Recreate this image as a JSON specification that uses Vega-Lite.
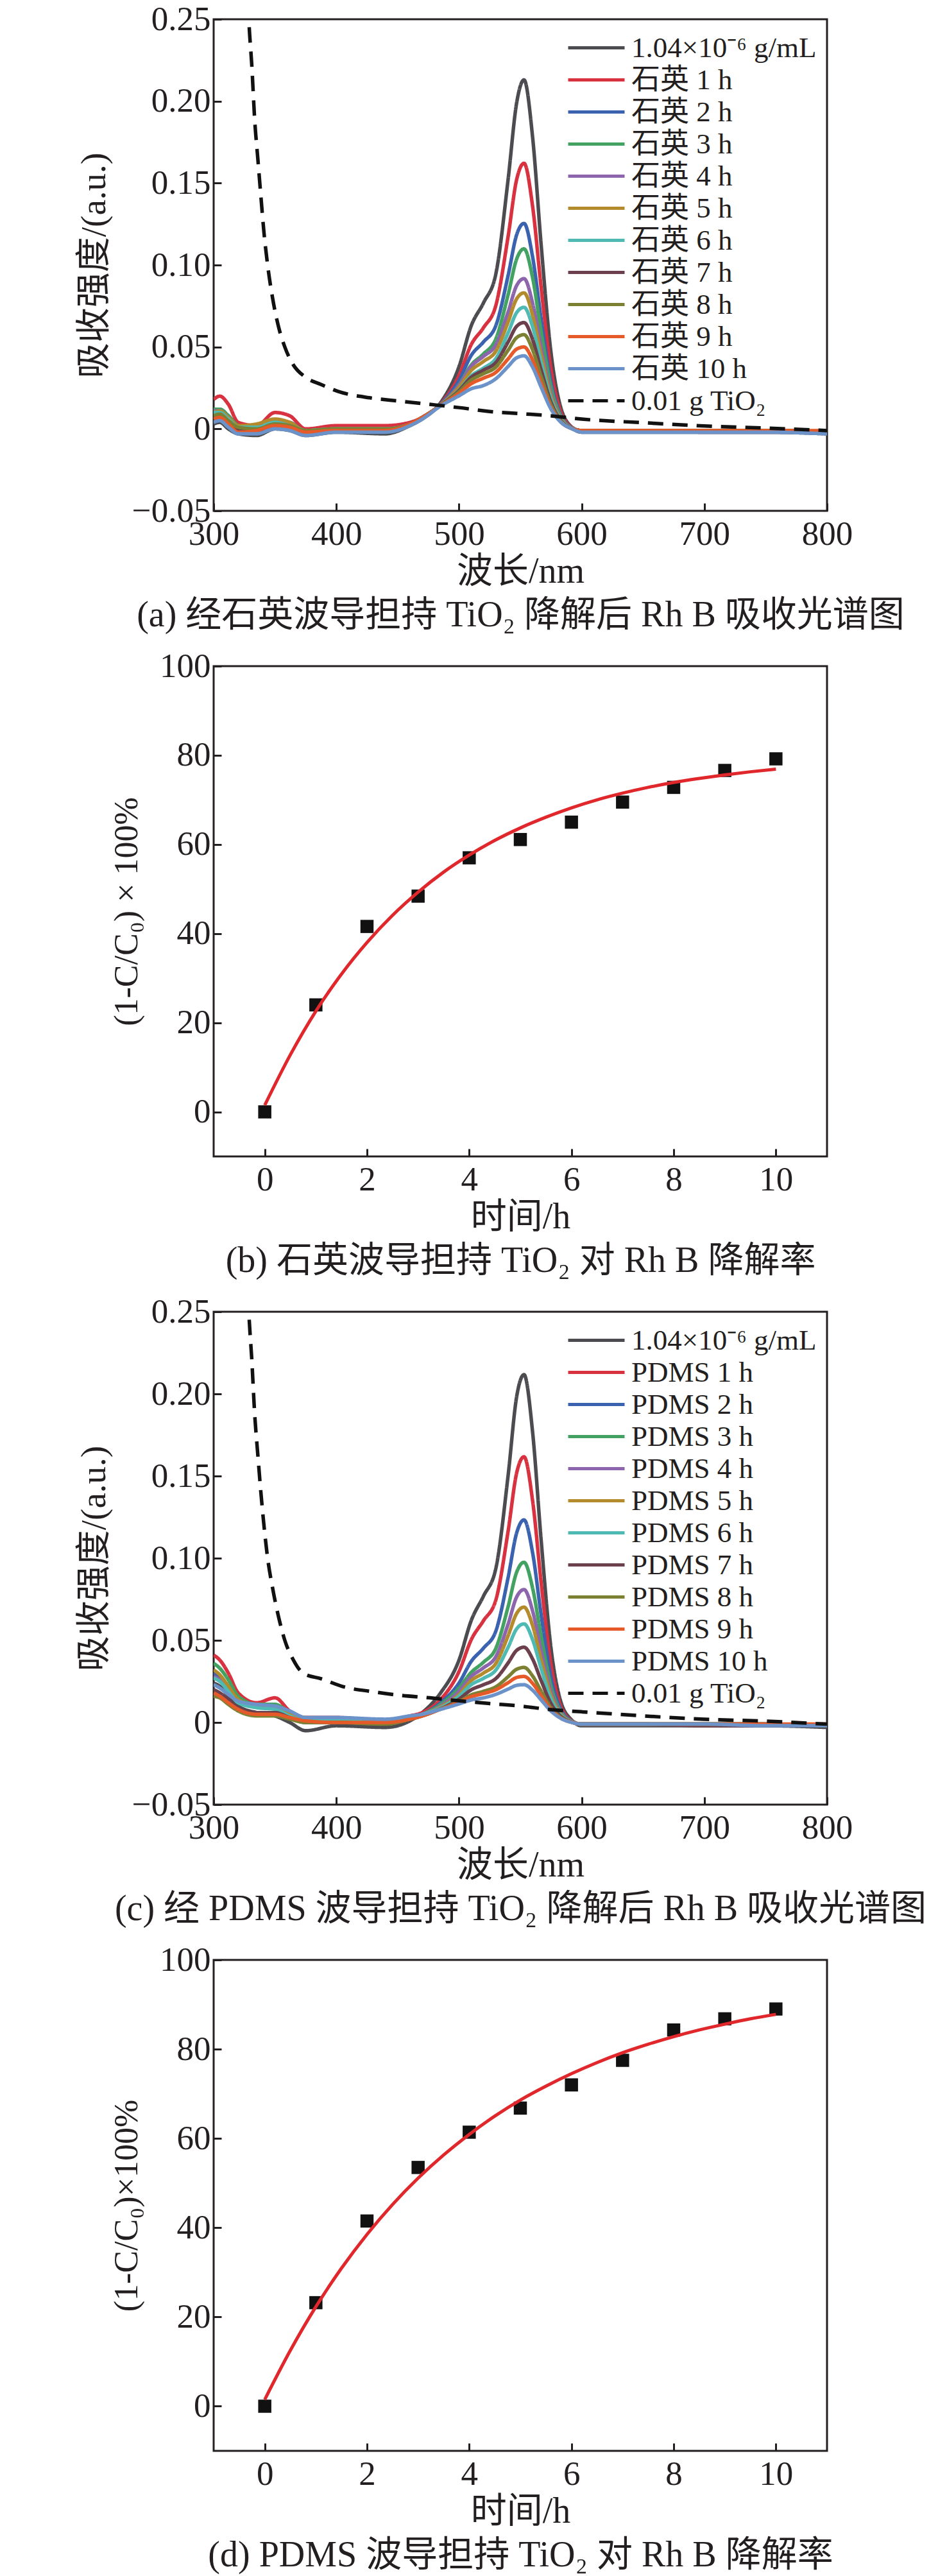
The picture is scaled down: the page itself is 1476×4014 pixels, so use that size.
{
  "$schema": "https://vega.github.io/schema/vega-lite/v6.json",
  "background": "white",
  "padding": {"left": 117, "top": 2, "right": 5, "bottom": 5},
  "config": {
    "font": "Liberation Serif, Noto Sans CJK SC",
    "view": {"stroke": "#231f20", "strokeWidth": 3},
    "axis": {
      "domain": false, "grid": false, "ticks": true, "tickSize": -12, "tickWidth": 3, "tickColor": "#231f20",
      "labelFontSize": 53, "labelColor": "#231f20", "labelFlush": false, "labelOverlap": false, "labelBound": false,
      "titleFontSize": 56, "titleFontWeight": "normal", "titleColor": "#231f20", "titleLimit": 2000
    },
    "axisX": {"labelPadding": 22, "titlePadding": 4, "titleLineHeight": 68, "format": "d"},
    "axisY": {"labelPadding": 17},
    "legend": {
      "orient": "none", "legendX": 574, "legendY": 22, "title": null, "padding": 0,
      "symbolType": "M-2.2,0L2.2,0", "symbolSize": 1600, "symbolStrokeWidth": 5,
      "labelFontSize": 45, "labelOffset": 32, "rowPadding": 4, "labelColor": "#231f20", "labelLimit": 800
    }
  },
  "datasets": {
    "a": [
      {"s":"1.04×10⁻⁶ g/mL","w":300,"v":0.003},{"s":"1.04×10⁻⁶ g/mL","w":305,"v":0.004},{"s":"1.04×10⁻⁶ g/mL","w":312,"v":0},{"s":"1.04×10⁻⁶ g/mL","w":320,"v":-0.003},{"s":"1.04×10⁻⁶ g/mL","w":335,"v":-0.004},{"s":"1.04×10⁻⁶ g/mL","w":350,"v":0},{"s":"1.04×10⁻⁶ g/mL","w":362,"v":-0.001},{"s":"1.04×10⁻⁶ g/mL","w":375,"v":-0.004},{"s":"1.04×10⁻⁶ g/mL","w":400,"v":-0.002},{"s":"1.04×10⁻⁶ g/mL","w":440,"v":-0.003},{"s":"1.04×10⁻⁶ g/mL","w":460,"v":0.002},{"s":"1.04×10⁻⁶ g/mL","w":470,"v":0.006},{"s":"1.04×10⁻⁶ g/mL","w":485,"v":0.016},{"s":"1.04×10⁻⁶ g/mL","w":500,"v":0.038},{"s":"1.04×10⁻⁶ g/mL","w":510,"v":0.063},{"s":"1.04×10⁻⁶ g/mL","w":520,"v":0.077},{"s":"1.04×10⁻⁶ g/mL","w":530,"v":0.0945},{"s":"1.04×10⁻⁶ g/mL","w":540,"v":0.152},{"s":"1.04×10⁻⁶ g/mL","w":547,"v":0.199},{"s":"1.04×10⁻⁶ g/mL","w":553,"v":0.213},{"s":"1.04×10⁻⁶ g/mL","w":560,"v":0.178},{"s":"1.04×10⁻⁶ g/mL","w":567,"v":0.112},{"s":"1.04×10⁻⁶ g/mL","w":575,"v":0.0465},{"s":"1.04×10⁻⁶ g/mL","w":583,"v":0.013},{"s":"1.04×10⁻⁶ g/mL","w":592,"v":0.001},{"s":"1.04×10⁻⁶ g/mL","w":600,"v":-0.002},{"s":"1.04×10⁻⁶ g/mL","w":650,"v":-0.002},{"s":"1.04×10⁻⁶ g/mL","w":700,"v":-0.002},{"s":"1.04×10⁻⁶ g/mL","w":750,"v":-0.002},{"s":"1.04×10⁻⁶ g/mL","w":800,"v":-0.003},
      {"s":"石英 1 h","w":300,"v":0.018},{"s":"石英 1 h","w":305,"v":0.02},{"s":"石英 1 h","w":312,"v":0.015},{"s":"石英 1 h","w":320,"v":0.004},{"s":"石英 1 h","w":335,"v":0.002},{"s":"石英 1 h","w":350,"v":0.01},{"s":"石英 1 h","w":362,"v":0.008},{"s":"石英 1 h","w":375,"v":0},{"s":"石英 1 h","w":400,"v":0.002},{"s":"石英 1 h","w":440,"v":0.002},{"s":"石英 1 h","w":460,"v":0.004},{"s":"石英 1 h","w":470,"v":0.007},{"s":"石英 1 h","w":485,"v":0.0153},{"s":"石英 1 h","w":500,"v":0.0326},{"s":"石英 1 h","w":510,"v":0.0515},{"s":"石英 1 h","w":520,"v":0.0618},{"s":"石英 1 h","w":530,"v":0.0753},{"s":"石英 1 h","w":540,"v":0.1173},{"s":"石英 1 h","w":547,"v":0.1522},{"s":"石英 1 h","w":553,"v":0.1621},{"s":"石英 1 h","w":560,"v":0.1358},{"s":"石英 1 h","w":567,"v":0.086},{"s":"石英 1 h","w":575,"v":0.0362},{"s":"石英 1 h","w":583,"v":0.0105},{"s":"石英 1 h","w":592,"v":0.001},{"s":"石英 1 h","w":600,"v":-0.001},{"s":"石英 1 h","w":650,"v":-0.001},{"s":"石英 1 h","w":700,"v":-0.001},{"s":"石英 1 h","w":750,"v":-0.001},{"s":"石英 1 h","w":800,"v":-0.002},
      {"s":"石英 2 h","w":300,"v":0.01},{"s":"石英 2 h","w":305,"v":0.012},{"s":"石英 2 h","w":312,"v":0.008},{"s":"石英 2 h","w":320,"v":0.002},{"s":"石英 2 h","w":335,"v":0},{"s":"石英 2 h","w":350,"v":0.005},{"s":"石英 2 h","w":362,"v":0.004},{"s":"石英 2 h","w":375,"v":-0.001},{"s":"石英 2 h","w":400,"v":0},{"s":"石英 2 h","w":440,"v":0},{"s":"石英 2 h","w":460,"v":0.003},{"s":"石英 2 h","w":470,"v":0.007},{"s":"石英 2 h","w":485,"v":0.015},{"s":"石英 2 h","w":500,"v":0.0296},{"s":"石英 2 h","w":510,"v":0.0449},{"s":"石英 2 h","w":520,"v":0.0531},{"s":"石英 2 h","w":530,"v":0.063},{"s":"石英 2 h","w":540,"v":0.0935},{"s":"石英 2 h","w":547,"v":0.1185},{"s":"石英 2 h","w":553,"v":0.1254},{"s":"石英 2 h","w":560,"v":0.105},{"s":"石英 2 h","w":567,"v":0.0669},{"s":"石英 2 h","w":575,"v":0.0285},{"s":"石英 2 h","w":583,"v":0.0084},{"s":"石英 2 h","w":592,"v":0.0007},{"s":"石英 2 h","w":600,"v":-0.001},{"s":"石英 2 h","w":650,"v":-0.001},{"s":"石英 2 h","w":700,"v":-0.001},{"s":"石英 2 h","w":750,"v":-0.001},{"s":"石英 2 h","w":800,"v":-0.002},
      {"s":"石英 3 h","w":300,"v":0.012},{"s":"石英 3 h","w":305,"v":0.012},{"s":"石英 3 h","w":312,"v":0.008},{"s":"石英 3 h","w":320,"v":0.002},{"s":"石英 3 h","w":335,"v":0},{"s":"石英 3 h","w":350,"v":0.005},{"s":"石英 3 h","w":362,"v":0.003},{"s":"石英 3 h","w":375,"v":-0.001},{"s":"石英 3 h","w":400,"v":0},{"s":"石英 3 h","w":440,"v":0},{"s":"石英 3 h","w":460,"v":0.003},{"s":"石英 3 h","w":470,"v":0.007},{"s":"石英 3 h","w":485,"v":0.0147},{"s":"石英 3 h","w":500,"v":0.0269},{"s":"石英 3 h","w":510,"v":0.039},{"s":"石英 3 h","w":520,"v":0.0458},{"s":"石英 3 h","w":530,"v":0.0549},{"s":"石英 3 h","w":540,"v":0.0818},{"s":"石英 3 h","w":547,"v":0.1037},{"s":"石英 3 h","w":553,"v":0.1099},{"s":"石英 3 h","w":560,"v":0.0923},{"s":"石英 3 h","w":567,"v":0.0591},{"s":"石英 3 h","w":575,"v":0.0255},{"s":"石英 3 h","w":583,"v":0.0076},{"s":"石英 3 h","w":592,"v":0.0006},{"s":"石英 3 h","w":600,"v":-0.001},{"s":"石英 3 h","w":650,"v":-0.001},{"s":"石英 3 h","w":700,"v":-0.001},{"s":"石英 3 h","w":750,"v":-0.001},{"s":"石英 3 h","w":800,"v":-0.002},
      {"s":"石英 4 h","w":300,"v":0.011},{"s":"石英 4 h","w":305,"v":0.011},{"s":"石英 4 h","w":312,"v":0.007},{"s":"石英 4 h","w":320,"v":0.001},{"s":"石英 4 h","w":335,"v":0},{"s":"石英 4 h","w":350,"v":0.004},{"s":"石英 4 h","w":362,"v":0.003},{"s":"石英 4 h","w":375,"v":-0.001},{"s":"石英 4 h","w":400,"v":0},{"s":"石英 4 h","w":440,"v":0},{"s":"石英 4 h","w":460,"v":0.003},{"s":"石英 4 h","w":470,"v":0.007},{"s":"石英 4 h","w":485,"v":0.0147},{"s":"石英 4 h","w":500,"v":0.0265},{"s":"石英 4 h","w":510,"v":0.0382},{"s":"石英 4 h","w":520,"v":0.0443},{"s":"石英 4 h","w":530,"v":0.0512},{"s":"石英 4 h","w":540,"v":0.0713},{"s":"石英 4 h","w":547,"v":0.0875},{"s":"石英 4 h","w":553,"v":0.0917},{"s":"石英 4 h","w":560,"v":0.0768},{"s":"石英 4 h","w":567,"v":0.0495},{"s":"石英 4 h","w":575,"v":0.0217},{"s":"石英 4 h","w":583,"v":0.0066},{"s":"石英 4 h","w":592,"v":0.0005},{"s":"石英 4 h","w":600,"v":-0.001},{"s":"石英 4 h","w":650,"v":-0.001},{"s":"石英 4 h","w":700,"v":-0.001},{"s":"石英 4 h","w":750,"v":-0.001},{"s":"石英 4 h","w":800,"v":-0.002},
      {"s":"石英 5 h","w":300,"v":0.01},{"s":"石英 5 h","w":305,"v":0.011},{"s":"石英 5 h","w":312,"v":0.007},{"s":"石英 5 h","w":320,"v":0.002},{"s":"石英 5 h","w":335,"v":0.003},{"s":"石英 5 h","w":350,"v":0.006},{"s":"石英 5 h","w":362,"v":0.004},{"s":"石英 5 h","w":375,"v":-0.001},{"s":"石英 5 h","w":400,"v":0},{"s":"石英 5 h","w":440,"v":0},{"s":"石英 5 h","w":460,"v":0.003},{"s":"石英 5 h","w":470,"v":0.007},{"s":"石英 5 h","w":485,"v":0.0146},{"s":"石英 5 h","w":500,"v":0.0254},{"s":"石英 5 h","w":510,"v":0.0357},{"s":"石英 5 h","w":520,"v":0.0412},{"s":"石英 5 h","w":530,"v":0.0474},{"s":"石英 5 h","w":540,"v":0.0652},{"s":"石英 5 h","w":547,"v":0.0794},{"s":"石英 5 h","w":553,"v":0.083},{"s":"石英 5 h","w":560,"v":0.0695},{"s":"石英 5 h","w":567,"v":0.045},{"s":"石英 5 h","w":575,"v":0.0199},{"s":"石英 5 h","w":583,"v":0.0061},{"s":"石英 5 h","w":592,"v":0.0004},{"s":"石英 5 h","w":600,"v":-0.001},{"s":"石英 5 h","w":650,"v":-0.001},{"s":"石英 5 h","w":700,"v":-0.001},{"s":"石英 5 h","w":750,"v":-0.001},{"s":"石英 5 h","w":800,"v":-0.002},
      {"s":"石英 6 h","w":300,"v":0.01},{"s":"石英 6 h","w":305,"v":0.01},{"s":"石英 6 h","w":312,"v":0.006},{"s":"石英 6 h","w":320,"v":0.001},{"s":"石英 6 h","w":335,"v":0.001},{"s":"石英 6 h","w":350,"v":0.004},{"s":"石英 6 h","w":362,"v":0.002},{"s":"石英 6 h","w":375,"v":-0.001},{"s":"石英 6 h","w":400,"v":0},{"s":"石英 6 h","w":440,"v":0},{"s":"石英 6 h","w":460,"v":0.003},{"s":"石英 6 h","w":470,"v":0.007},{"s":"石英 6 h","w":485,"v":0.0144},{"s":"石英 6 h","w":500,"v":0.0238},{"s":"石英 6 h","w":510,"v":0.0324},{"s":"石英 6 h","w":520,"v":0.0371},{"s":"石英 6 h","w":530,"v":0.0429},{"s":"石英 6 h","w":540,"v":0.0586},{"s":"石英 6 h","w":547,"v":0.071},{"s":"石英 6 h","w":553,"v":0.0742},{"s":"石英 6 h","w":560,"v":0.0623},{"s":"石英 6 h","w":567,"v":0.0406},{"s":"石英 6 h","w":575,"v":0.0182},{"s":"石英 6 h","w":583,"v":0.0056},{"s":"石英 6 h","w":592,"v":0.0004},{"s":"石英 6 h","w":600,"v":-0.001},{"s":"石英 6 h","w":650,"v":-0.001},{"s":"石英 6 h","w":700,"v":-0.001},{"s":"石英 6 h","w":750,"v":-0.001},{"s":"石英 6 h","w":800,"v":-0.002},
      {"s":"石英 7 h","w":300,"v":0.007},{"s":"石英 7 h","w":305,"v":0.008},{"s":"石英 7 h","w":312,"v":0.004},{"s":"石英 7 h","w":320,"v":0},{"s":"石英 7 h","w":335,"v":-0.001},{"s":"石英 7 h","w":350,"v":0.002},{"s":"石英 7 h","w":362,"v":0.001},{"s":"石英 7 h","w":375,"v":-0.002},{"s":"石英 7 h","w":400,"v":-0.001},{"s":"石英 7 h","w":440,"v":-0.001},{"s":"石英 7 h","w":460,"v":0.003},{"s":"石英 7 h","w":470,"v":0.007},{"s":"石英 7 h","w":485,"v":0.0144},{"s":"石英 7 h","w":500,"v":0.0234},{"s":"石英 7 h","w":510,"v":0.0315},{"s":"石英 7 h","w":520,"v":0.0359},{"s":"石英 7 h","w":530,"v":0.0405},{"s":"石英 7 h","w":540,"v":0.053},{"s":"石英 7 h","w":547,"v":0.0626},{"s":"石英 7 h","w":553,"v":0.0649},{"s":"石英 7 h","w":560,"v":0.0545},{"s":"石英 7 h","w":567,"v":0.0358},{"s":"石英 7 h","w":575,"v":0.0163},{"s":"石英 7 h","w":583,"v":0.0051},{"s":"石英 7 h","w":592,"v":0.0003},{"s":"石英 7 h","w":600,"v":-0.001},{"s":"石英 7 h","w":650,"v":-0.001},{"s":"石英 7 h","w":700,"v":-0.002},{"s":"石英 7 h","w":750,"v":-0.002},{"s":"石英 7 h","w":800,"v":-0.002},
      {"s":"石英 8 h","w":300,"v":0.008},{"s":"石英 8 h","w":305,"v":0.009},{"s":"石英 8 h","w":312,"v":0.005},{"s":"石英 8 h","w":320,"v":0.001},{"s":"石英 8 h","w":335,"v":0},{"s":"石英 8 h","w":350,"v":0.003},{"s":"石英 8 h","w":362,"v":0.002},{"s":"石英 8 h","w":375,"v":-0.001},{"s":"石英 8 h","w":400,"v":0},{"s":"石英 8 h","w":440,"v":0},{"s":"石英 8 h","w":460,"v":0.003},{"s":"石英 8 h","w":470,"v":0.007},{"s":"石英 8 h","w":485,"v":0.0143},{"s":"石英 8 h","w":500,"v":0.0227},{"s":"石英 8 h","w":510,"v":0.0298},{"s":"石英 8 h","w":520,"v":0.0337},{"s":"石英 8 h","w":530,"v":0.0377},{"s":"石英 8 h","w":540,"v":0.048},{"s":"石英 8 h","w":547,"v":0.0557},{"s":"石英 8 h","w":553,"v":0.0575},{"s":"石英 8 h","w":560,"v":0.0483},{"s":"石英 8 h","w":567,"v":0.0319},{"s":"石英 8 h","w":575,"v":0.0147},{"s":"石英 8 h","w":583,"v":0.0047},{"s":"石英 8 h","w":592,"v":0.0002},{"s":"石英 8 h","w":600,"v":-0.001},{"s":"石英 8 h","w":650,"v":-0.001},{"s":"石英 8 h","w":700,"v":-0.001},{"s":"石英 8 h","w":750,"v":-0.001},{"s":"石英 8 h","w":800,"v":-0.002},
      {"s":"石英 9 h","w":300,"v":0.006},{"s":"石英 9 h","w":305,"v":0.007},{"s":"石英 9 h","w":312,"v":0.003},{"s":"石英 9 h","w":320,"v":-0.002},{"s":"石英 9 h","w":335,"v":-0.001},{"s":"石英 9 h","w":350,"v":0.002},{"s":"石英 9 h","w":362,"v":0.001},{"s":"石英 9 h","w":375,"v":-0.002},{"s":"石英 9 h","w":400,"v":-0.001},{"s":"石英 9 h","w":440,"v":-0.001},{"s":"石英 9 h","w":460,"v":0.003},{"s":"石英 9 h","w":470,"v":0.007},{"s":"石英 9 h","w":485,"v":0.0142},{"s":"石英 9 h","w":500,"v":0.0217},{"s":"石英 9 h","w":510,"v":0.0276},{"s":"石英 9 h","w":520,"v":0.031},{"s":"石英 9 h","w":530,"v":0.0345},{"s":"石英 9 h","w":540,"v":0.0427},{"s":"石英 9 h","w":547,"v":0.0487},{"s":"石英 9 h","w":553,"v":0.05},{"s":"石英 9 h","w":560,"v":0.042},{"s":"石英 9 h","w":567,"v":0.028},{"s":"石英 9 h","w":575,"v":0.0131},{"s":"石英 9 h","w":583,"v":0.0043},{"s":"石英 9 h","w":592,"v":0.0002},{"s":"石英 9 h","w":600,"v":-0.001},{"s":"石英 9 h","w":650,"v":-0.001},{"s":"石英 9 h","w":700,"v":-0.001},{"s":"石英 9 h","w":750,"v":-0.001},{"s":"石英 9 h","w":800,"v":-0.001},
      {"s":"石英 10 h","w":300,"v":0.004},{"s":"石英 10 h","w":305,"v":0.005},{"s":"石英 10 h","w":312,"v":0.001},{"s":"石英 10 h","w":320,"v":-0.003},{"s":"石英 10 h","w":335,"v":-0.003},{"s":"石英 10 h","w":350,"v":0},{"s":"石英 10 h","w":362,"v":-0.001},{"s":"石英 10 h","w":375,"v":-0.004},{"s":"石英 10 h","w":400,"v":-0.002},{"s":"石英 10 h","w":440,"v":-0.002},{"s":"石英 10 h","w":460,"v":0.002},{"s":"石英 10 h","w":470,"v":0.006},{"s":"石英 10 h","w":485,"v":0.014},{"s":"石英 10 h","w":500,"v":0.0202},{"s":"石英 10 h","w":510,"v":0.0245},{"s":"石英 10 h","w":520,"v":0.0265},{"s":"石英 10 h","w":530,"v":0.0306},{"s":"石英 10 h","w":540,"v":0.0381},{"s":"石英 10 h","w":547,"v":0.0434},{"s":"石英 10 h","w":553,"v":0.0446},{"s":"石英 10 h","w":560,"v":0.0377},{"s":"石英 10 h","w":567,"v":0.0254},{"s":"石英 10 h","w":575,"v":0.0121},{"s":"石英 10 h","w":583,"v":0.0041},{"s":"石英 10 h","w":592,"v":0.0001},{"s":"石英 10 h","w":600,"v":-0.002},{"s":"石英 10 h","w":650,"v":-0.002},{"s":"石英 10 h","w":700,"v":-0.002},{"s":"石英 10 h","w":750,"v":-0.002},{"s":"石英 10 h","w":800,"v":-0.003},
      {"s":"0.01 g TiO₂","w":328,"v":0.26},{"s":"0.01 g TiO₂","w":329,"v":0.245},{"s":"0.01 g TiO₂","w":331,"v":0.223},{"s":"0.01 g TiO₂","w":333.5,"v":0.188},{"s":"0.01 g TiO₂","w":336,"v":0.165},{"s":"0.01 g TiO₂","w":338.5,"v":0.142},{"s":"0.01 g TiO₂","w":341,"v":0.12},{"s":"0.01 g TiO₂","w":344,"v":0.1},{"s":"0.01 g TiO₂","w":348,"v":0.08},{"s":"0.01 g TiO₂","w":353,"v":0.062},{"s":"0.01 g TiO₂","w":358,"v":0.05},{"s":"0.01 g TiO₂","w":365,"v":0.039},{"s":"0.01 g TiO₂","w":374,"v":0.032},{"s":"0.01 g TiO₂","w":388,"v":0.027},{"s":"0.01 g TiO₂","w":401,"v":0.023},{"s":"0.01 g TiO₂","w":427,"v":0.019},{"s":"0.01 g TiO₂","w":451,"v":0.017},{"s":"0.01 g TiO₂","w":476,"v":0.015},{"s":"0.01 g TiO₂","w":500,"v":0.013},{"s":"0.01 g TiO₂","w":525,"v":0.0106},{"s":"0.01 g TiO₂","w":550,"v":0.0093},{"s":"0.01 g TiO₂","w":575,"v":0.008},{"s":"0.01 g TiO₂","w":600,"v":0.006},{"s":"0.01 g TiO₂","w":650,"v":0.0038},{"s":"0.01 g TiO₂","w":700,"v":0.0018},{"s":"0.01 g TiO₂","w":750,"v":0.0005},{"s":"0.01 g TiO₂","w":800,"v":-0.001}
    ],
    "c": [
      {"s":"1.04×10⁻⁶ g/mL","w":300,"v":0.024},{"s":"1.04×10⁻⁶ g/mL","w":305,"v":0.022},{"s":"1.04×10⁻⁶ g/mL","w":312,"v":0.016},{"s":"1.04×10⁻⁶ g/mL","w":320,"v":0.01},{"s":"1.04×10⁻⁶ g/mL","w":335,"v":0.006},{"s":"1.04×10⁻⁶ g/mL","w":350,"v":0.004},{"s":"1.04×10⁻⁶ g/mL","w":362,"v":0},{"s":"1.04×10⁻⁶ g/mL","w":375,"v":-0.005},{"s":"1.04×10⁻⁶ g/mL","w":400,"v":-0.002},{"s":"1.04×10⁻⁶ g/mL","w":440,"v":-0.003},{"s":"1.04×10⁻⁶ g/mL","w":460,"v":0.001},{"s":"1.04×10⁻⁶ g/mL","w":470,"v":0.006},{"s":"1.04×10⁻⁶ g/mL","w":485,"v":0.018},{"s":"1.04×10⁻⁶ g/mL","w":500,"v":0.038},{"s":"1.04×10⁻⁶ g/mL","w":510,"v":0.0621},{"s":"1.04×10⁻⁶ g/mL","w":520,"v":0.077},{"s":"1.04×10⁻⁶ g/mL","w":530,"v":0.0937},{"s":"1.04×10⁻⁶ g/mL","w":540,"v":0.1501},{"s":"1.04×10⁻⁶ g/mL","w":547,"v":0.1983},{"s":"1.04×10⁻⁶ g/mL","w":553,"v":0.2117},{"s":"1.04×10⁻⁶ g/mL","w":560,"v":0.1767},{"s":"1.04×10⁻⁶ g/mL","w":567,"v":0.1106},{"s":"1.04×10⁻⁶ g/mL","w":575,"v":0.0452},{"s":"1.04×10⁻⁶ g/mL","w":583,"v":0.0127},{"s":"1.04×10⁻⁶ g/mL","w":592,"v":0.0014},{"s":"1.04×10⁻⁶ g/mL","w":600,"v":-0.002},{"s":"1.04×10⁻⁶ g/mL","w":650,"v":-0.002},{"s":"1.04×10⁻⁶ g/mL","w":700,"v":-0.002},{"s":"1.04×10⁻⁶ g/mL","w":750,"v":-0.002},{"s":"1.04×10⁻⁶ g/mL","w":800,"v":-0.003},
      {"s":"PDMS 1 h","w":300,"v":0.041},{"s":"PDMS 1 h","w":305,"v":0.038},{"s":"PDMS 1 h","w":312,"v":0.03},{"s":"PDMS 1 h","w":320,"v":0.018},{"s":"PDMS 1 h","w":335,"v":0.012},{"s":"PDMS 1 h","w":350,"v":0.015},{"s":"PDMS 1 h","w":362,"v":0.007},{"s":"PDMS 1 h","w":375,"v":0.003},{"s":"PDMS 1 h","w":400,"v":0.003},{"s":"PDMS 1 h","w":440,"v":0.001},{"s":"PDMS 1 h","w":460,"v":0.004},{"s":"PDMS 1 h","w":470,"v":0.006},{"s":"PDMS 1 h","w":485,"v":0.014},{"s":"PDMS 1 h","w":500,"v":0.031},{"s":"PDMS 1 h","w":510,"v":0.0504},{"s":"PDMS 1 h","w":520,"v":0.062},{"s":"PDMS 1 h","w":530,"v":0.0745},{"s":"PDMS 1 h","w":540,"v":0.1163},{"s":"PDMS 1 h","w":547,"v":0.1519},{"s":"PDMS 1 h","w":553,"v":0.1617},{"s":"PDMS 1 h","w":560,"v":0.135},{"s":"PDMS 1 h","w":567,"v":0.0849},{"s":"PDMS 1 h","w":575,"v":0.0351},{"s":"PDMS 1 h","w":583,"v":0.0099},{"s":"PDMS 1 h","w":592,"v":0.001},{"s":"PDMS 1 h","w":600,"v":-0.001},{"s":"PDMS 1 h","w":650,"v":-0.001},{"s":"PDMS 1 h","w":700,"v":-0.001},{"s":"PDMS 1 h","w":750,"v":-0.001},{"s":"PDMS 1 h","w":800,"v":-0.002},
      {"s":"PDMS 2 h","w":300,"v":0.03},{"s":"PDMS 2 h","w":305,"v":0.028},{"s":"PDMS 2 h","w":312,"v":0.022},{"s":"PDMS 2 h","w":320,"v":0.014},{"s":"PDMS 2 h","w":335,"v":0.01},{"s":"PDMS 2 h","w":350,"v":0.009},{"s":"PDMS 2 h","w":362,"v":0.005},{"s":"PDMS 2 h","w":375,"v":0.001},{"s":"PDMS 2 h","w":400,"v":0.001},{"s":"PDMS 2 h","w":440,"v":0},{"s":"PDMS 2 h","w":460,"v":0.003},{"s":"PDMS 2 h","w":470,"v":0.005},{"s":"PDMS 2 h","w":485,"v":0.012},{"s":"PDMS 2 h","w":500,"v":0.024},{"s":"PDMS 2 h","w":510,"v":0.0372},{"s":"PDMS 2 h","w":520,"v":0.0453},{"s":"PDMS 2 h","w":530,"v":0.0556},{"s":"PDMS 2 h","w":540,"v":0.0881},{"s":"PDMS 2 h","w":547,"v":0.1154},{"s":"PDMS 2 h","w":553,"v":0.1233},{"s":"PDMS 2 h","w":560,"v":0.1033},{"s":"PDMS 2 h","w":567,"v":0.0654},{"s":"PDMS 2 h","w":575,"v":0.0273},{"s":"PDMS 2 h","w":583,"v":0.0079},{"s":"PDMS 2 h","w":592,"v":0.0008},{"s":"PDMS 2 h","w":600,"v":-0.001},{"s":"PDMS 2 h","w":650,"v":-0.001},{"s":"PDMS 2 h","w":700,"v":-0.001},{"s":"PDMS 2 h","w":750,"v":-0.001},{"s":"PDMS 2 h","w":800,"v":-0.002},
      {"s":"PDMS 3 h","w":300,"v":0.036},{"s":"PDMS 3 h","w":305,"v":0.033},{"s":"PDMS 3 h","w":312,"v":0.026},{"s":"PDMS 3 h","w":320,"v":0.016},{"s":"PDMS 3 h","w":335,"v":0.011},{"s":"PDMS 3 h","w":350,"v":0.011},{"s":"PDMS 3 h","w":362,"v":0.006},{"s":"PDMS 3 h","w":375,"v":0.002},{"s":"PDMS 3 h","w":400,"v":0.001},{"s":"PDMS 3 h","w":440,"v":0},{"s":"PDMS 3 h","w":460,"v":0.003},{"s":"PDMS 3 h","w":470,"v":0.005},{"s":"PDMS 3 h","w":485,"v":0.011},{"s":"PDMS 3 h","w":500,"v":0.021},{"s":"PDMS 3 h","w":510,"v":0.0305},{"s":"PDMS 3 h","w":520,"v":0.0367},{"s":"PDMS 3 h","w":530,"v":0.0451},{"s":"PDMS 3 h","w":540,"v":0.0704},{"s":"PDMS 3 h","w":547,"v":0.0915},{"s":"PDMS 3 h","w":553,"v":0.0975},{"s":"PDMS 3 h","w":560,"v":0.0818},{"s":"PDMS 3 h","w":567,"v":0.0522},{"s":"PDMS 3 h","w":575,"v":0.0221},{"s":"PDMS 3 h","w":583,"v":0.0065},{"s":"PDMS 3 h","w":592,"v":0.0006},{"s":"PDMS 3 h","w":600,"v":-0.001},{"s":"PDMS 3 h","w":650,"v":-0.001},{"s":"PDMS 3 h","w":700,"v":-0.001},{"s":"PDMS 3 h","w":750,"v":-0.001},{"s":"PDMS 3 h","w":800,"v":-0.002},
      {"s":"PDMS 4 h","w":300,"v":0.028},{"s":"PDMS 4 h","w":305,"v":0.026},{"s":"PDMS 4 h","w":312,"v":0.02},{"s":"PDMS 4 h","w":320,"v":0.013},{"s":"PDMS 4 h","w":335,"v":0.01},{"s":"PDMS 4 h","w":350,"v":0.009},{"s":"PDMS 4 h","w":362,"v":0.005},{"s":"PDMS 4 h","w":375,"v":0.001},{"s":"PDMS 4 h","w":400,"v":0.001},{"s":"PDMS 4 h","w":440,"v":0},{"s":"PDMS 4 h","w":460,"v":0.003},{"s":"PDMS 4 h","w":470,"v":0.005},{"s":"PDMS 4 h","w":485,"v":0.01},{"s":"PDMS 4 h","w":500,"v":0.019},{"s":"PDMS 4 h","w":510,"v":0.028},{"s":"PDMS 4 h","w":520,"v":0.0333},{"s":"PDMS 4 h","w":530,"v":0.04},{"s":"PDMS 4 h","w":540,"v":0.0598},{"s":"PDMS 4 h","w":547,"v":0.0764},{"s":"PDMS 4 h","w":553,"v":0.0809},{"s":"PDMS 4 h","w":560,"v":0.0679},{"s":"PDMS 4 h","w":567,"v":0.0435},{"s":"PDMS 4 h","w":575,"v":0.0187},{"s":"PDMS 4 h","w":583,"v":0.0056},{"s":"PDMS 4 h","w":592,"v":0.0005},{"s":"PDMS 4 h","w":600,"v":-0.001},{"s":"PDMS 4 h","w":650,"v":-0.001},{"s":"PDMS 4 h","w":700,"v":-0.001},{"s":"PDMS 4 h","w":750,"v":-0.001},{"s":"PDMS 4 h","w":800,"v":-0.002},
      {"s":"PDMS 5 h","w":300,"v":0.032},{"s":"PDMS 5 h","w":305,"v":0.029},{"s":"PDMS 5 h","w":312,"v":0.022},{"s":"PDMS 5 h","w":320,"v":0.014},{"s":"PDMS 5 h","w":335,"v":0.01},{"s":"PDMS 5 h","w":350,"v":0.009},{"s":"PDMS 5 h","w":362,"v":0.005},{"s":"PDMS 5 h","w":375,"v":0.001},{"s":"PDMS 5 h","w":400,"v":0.001},{"s":"PDMS 5 h","w":440,"v":0},{"s":"PDMS 5 h","w":460,"v":0.003},{"s":"PDMS 5 h","w":470,"v":0.005},{"s":"PDMS 5 h","w":485,"v":0.0095},{"s":"PDMS 5 h","w":500,"v":0.017},{"s":"PDMS 5 h","w":510,"v":0.0255},{"s":"PDMS 5 h","w":520,"v":0.0301},{"s":"PDMS 5 h","w":530,"v":0.0359},{"s":"PDMS 5 h","w":540,"v":0.0527},{"s":"PDMS 5 h","w":547,"v":0.0664},{"s":"PDMS 5 h","w":553,"v":0.0702},{"s":"PDMS 5 h","w":560,"v":0.059},{"s":"PDMS 5 h","w":567,"v":0.038},{"s":"PDMS 5 h","w":575,"v":0.0165},{"s":"PDMS 5 h","w":583,"v":0.005},{"s":"PDMS 5 h","w":592,"v":0.0004},{"s":"PDMS 5 h","w":600,"v":-0.001},{"s":"PDMS 5 h","w":650,"v":-0.001},{"s":"PDMS 5 h","w":700,"v":-0.001},{"s":"PDMS 5 h","w":750,"v":-0.001},{"s":"PDMS 5 h","w":800,"v":-0.002},
      {"s":"PDMS 6 h","w":300,"v":0.027},{"s":"PDMS 6 h","w":305,"v":0.025},{"s":"PDMS 6 h","w":312,"v":0.019},{"s":"PDMS 6 h","w":320,"v":0.012},{"s":"PDMS 6 h","w":335,"v":0.009},{"s":"PDMS 6 h","w":350,"v":0.008},{"s":"PDMS 6 h","w":362,"v":0.004},{"s":"PDMS 6 h","w":375,"v":0.001},{"s":"PDMS 6 h","w":400,"v":0.001},{"s":"PDMS 6 h","w":440,"v":0},{"s":"PDMS 6 h","w":460,"v":0.003},{"s":"PDMS 6 h","w":470,"v":0.005},{"s":"PDMS 6 h","w":485,"v":0.009},{"s":"PDMS 6 h","w":500,"v":0.016},{"s":"PDMS 6 h","w":510,"v":0.023},{"s":"PDMS 6 h","w":520,"v":0.0269},{"s":"PDMS 6 h","w":530,"v":0.0319},{"s":"PDMS 6 h","w":540,"v":0.0457},{"s":"PDMS 6 h","w":547,"v":0.057},{"s":"PDMS 6 h","w":553,"v":0.06},{"s":"PDMS 6 h","w":560,"v":0.0504},{"s":"PDMS 6 h","w":567,"v":0.0327},{"s":"PDMS 6 h","w":575,"v":0.0144},{"s":"PDMS 6 h","w":583,"v":0.0044},{"s":"PDMS 6 h","w":592,"v":0.0003},{"s":"PDMS 6 h","w":600,"v":-0.001},{"s":"PDMS 6 h","w":650,"v":-0.001},{"s":"PDMS 6 h","w":700,"v":-0.001},{"s":"PDMS 6 h","w":750,"v":-0.001},{"s":"PDMS 6 h","w":800,"v":-0.002},
      {"s":"PDMS 7 h","w":300,"v":0.02},{"s":"PDMS 7 h","w":305,"v":0.018},{"s":"PDMS 7 h","w":312,"v":0.014},{"s":"PDMS 7 h","w":320,"v":0.009},{"s":"PDMS 7 h","w":335,"v":0.006},{"s":"PDMS 7 h","w":350,"v":0.006},{"s":"PDMS 7 h","w":362,"v":0.003},{"s":"PDMS 7 h","w":375,"v":0},{"s":"PDMS 7 h","w":400,"v":0},{"s":"PDMS 7 h","w":440,"v":-0.001},{"s":"PDMS 7 h","w":460,"v":0.002},{"s":"PDMS 7 h","w":470,"v":0.004},{"s":"PDMS 7 h","w":485,"v":0.0083},{"s":"PDMS 7 h","w":500,"v":0.0142},{"s":"PDMS 7 h","w":510,"v":0.0199},{"s":"PDMS 7 h","w":520,"v":0.023},{"s":"PDMS 7 h","w":530,"v":0.0267},{"s":"PDMS 7 h","w":540,"v":0.0362},{"s":"PDMS 7 h","w":547,"v":0.0439},{"s":"PDMS 7 h","w":553,"v":0.0458},{"s":"PDMS 7 h","w":560,"v":0.0386},{"s":"PDMS 7 h","w":567,"v":0.0254},{"s":"PDMS 7 h","w":575,"v":0.0115},{"s":"PDMS 7 h","w":583,"v":0.0037},{"s":"PDMS 7 h","w":592,"v":0.0002},{"s":"PDMS 7 h","w":600,"v":-0.001},{"s":"PDMS 7 h","w":650,"v":-0.001},{"s":"PDMS 7 h","w":700,"v":-0.002},{"s":"PDMS 7 h","w":750,"v":-0.002},{"s":"PDMS 7 h","w":800,"v":-0.002},
      {"s":"PDMS 8 h","w":300,"v":0.016},{"s":"PDMS 8 h","w":305,"v":0.015},{"s":"PDMS 8 h","w":312,"v":0.011},{"s":"PDMS 8 h","w":320,"v":0.007},{"s":"PDMS 8 h","w":335,"v":0.004},{"s":"PDMS 8 h","w":350,"v":0.004},{"s":"PDMS 8 h","w":362,"v":0.002},{"s":"PDMS 8 h","w":375,"v":0},{"s":"PDMS 8 h","w":400,"v":0},{"s":"PDMS 8 h","w":440,"v":-0.001},{"s":"PDMS 8 h","w":460,"v":0.002},{"s":"PDMS 8 h","w":470,"v":0.004},{"s":"PDMS 8 h","w":485,"v":0.0082},{"s":"PDMS 8 h","w":500,"v":0.0128},{"s":"PDMS 8 h","w":510,"v":0.0168},{"s":"PDMS 8 h","w":520,"v":0.019},{"s":"PDMS 8 h","w":530,"v":0.0217},{"s":"PDMS 8 h","w":540,"v":0.0278},{"s":"PDMS 8 h","w":547,"v":0.0324},{"s":"PDMS 8 h","w":553,"v":0.0335},{"s":"PDMS 8 h","w":560,"v":0.0283},{"s":"PDMS 8 h","w":567,"v":0.0191},{"s":"PDMS 8 h","w":575,"v":0.0089},{"s":"PDMS 8 h","w":583,"v":0.003},{"s":"PDMS 8 h","w":592,"v":0.0001},{"s":"PDMS 8 h","w":600,"v":-0.001},{"s":"PDMS 8 h","w":650,"v":-0.001},{"s":"PDMS 8 h","w":700,"v":-0.001},{"s":"PDMS 8 h","w":750,"v":-0.001},{"s":"PDMS 8 h","w":800,"v":-0.002},
      {"s":"PDMS 9 h","w":300,"v":0.018},{"s":"PDMS 9 h","w":305,"v":0.016},{"s":"PDMS 9 h","w":312,"v":0.012},{"s":"PDMS 9 h","w":320,"v":0.008},{"s":"PDMS 9 h","w":335,"v":0.005},{"s":"PDMS 9 h","w":350,"v":0.005},{"s":"PDMS 9 h","w":362,"v":0.003},{"s":"PDMS 9 h","w":375,"v":0.001},{"s":"PDMS 9 h","w":400,"v":0},{"s":"PDMS 9 h","w":440,"v":0},{"s":"PDMS 9 h","w":460,"v":0.002},{"s":"PDMS 9 h","w":470,"v":0.004},{"s":"PDMS 9 h","w":485,"v":0.0081},{"s":"PDMS 9 h","w":500,"v":0.0123},{"s":"PDMS 9 h","w":510,"v":0.0157},{"s":"PDMS 9 h","w":520,"v":0.0176},{"s":"PDMS 9 h","w":530,"v":0.0199},{"s":"PDMS 9 h","w":540,"v":0.0242},{"s":"PDMS 9 h","w":547,"v":0.0274},{"s":"PDMS 9 h","w":553,"v":0.028},{"s":"PDMS 9 h","w":560,"v":0.0238},{"s":"PDMS 9 h","w":567,"v":0.0163},{"s":"PDMS 9 h","w":575,"v":0.0078},{"s":"PDMS 9 h","w":583,"v":0.0027},{"s":"PDMS 9 h","w":592,"v":0.0001},{"s":"PDMS 9 h","w":600,"v":-0.001},{"s":"PDMS 9 h","w":650,"v":-0.001},{"s":"PDMS 9 h","w":700,"v":-0.001},{"s":"PDMS 9 h","w":750,"v":-0.001},{"s":"PDMS 9 h","w":800,"v":-0.001},
      {"s":"PDMS 10 h","w":300,"v":0.023},{"s":"PDMS 10 h","w":305,"v":0.021},{"s":"PDMS 10 h","w":312,"v":0.017},{"s":"PDMS 10 h","w":320,"v":0.013},{"s":"PDMS 10 h","w":335,"v":0.011},{"s":"PDMS 10 h","w":350,"v":0.01},{"s":"PDMS 10 h","w":362,"v":0.007},{"s":"PDMS 10 h","w":375,"v":0.003},{"s":"PDMS 10 h","w":400,"v":0.003},{"s":"PDMS 10 h","w":440,"v":0.002},{"s":"PDMS 10 h","w":460,"v":0.004},{"s":"PDMS 10 h","w":470,"v":0.005},{"s":"PDMS 10 h","w":485,"v":0.008},{"s":"PDMS 10 h","w":500,"v":0.0113},{"s":"PDMS 10 h","w":510,"v":0.0137},{"s":"PDMS 10 h","w":520,"v":0.015},{"s":"PDMS 10 h","w":530,"v":0.0171},{"s":"PDMS 10 h","w":540,"v":0.0203},{"s":"PDMS 10 h","w":547,"v":0.0226},{"s":"PDMS 10 h","w":553,"v":0.023},{"s":"PDMS 10 h","w":560,"v":0.0196},{"s":"PDMS 10 h","w":567,"v":0.0137},{"s":"PDMS 10 h","w":575,"v":0.0069},{"s":"PDMS 10 h","w":583,"v":0.0025},{"s":"PDMS 10 h","w":592,"v":0},{"s":"PDMS 10 h","w":600,"v":-0.001},{"s":"PDMS 10 h","w":650,"v":-0.001},{"s":"PDMS 10 h","w":700,"v":-0.001},{"s":"PDMS 10 h","w":750,"v":-0.002},{"s":"PDMS 10 h","w":800,"v":-0.002},
      {"s":"0.01 g TiO₂","w":328,"v":0.26},{"s":"0.01 g TiO₂","w":329,"v":0.245},{"s":"0.01 g TiO₂","w":331,"v":0.222},{"s":"0.01 g TiO₂","w":333.5,"v":0.187},{"s":"0.01 g TiO₂","w":336,"v":0.163},{"s":"0.01 g TiO₂","w":338.5,"v":0.14},{"s":"0.01 g TiO₂","w":341,"v":0.12},{"s":"0.01 g TiO₂","w":344,"v":0.1},{"s":"0.01 g TiO₂","w":348,"v":0.082},{"s":"0.01 g TiO₂","w":353,"v":0.064},{"s":"0.01 g TiO₂","w":358,"v":0.05},{"s":"0.01 g TiO₂","w":365,"v":0.038},{"s":"0.01 g TiO₂","w":373,"v":0.03},{"s":"0.01 g TiO₂","w":388,"v":0.0265},{"s":"0.01 g TiO₂","w":407,"v":0.0215},{"s":"0.01 g TiO₂","w":427,"v":0.019},{"s":"0.01 g TiO₂","w":452,"v":0.0165},{"s":"0.01 g TiO₂","w":476,"v":0.015},{"s":"0.01 g TiO₂","w":496,"v":0.0135},{"s":"0.01 g TiO₂","w":525,"v":0.0115},{"s":"0.01 g TiO₂","w":550,"v":0.01},{"s":"0.01 g TiO₂","w":575,"v":0.0078},{"s":"0.01 g TiO₂","w":600,"v":0.0065},{"s":"0.01 g TiO₂","w":650,"v":0.004},{"s":"0.01 g TiO₂","w":700,"v":0.002},{"s":"0.01 g TiO₂","w":750,"v":0.0008},{"s":"0.01 g TiO₂","w":800,"v":-0.001}
    ],
    "b": [
      {"k":"exp","t":0,"p":0},{"k":"exp","t":1,"p":24.0},{"k":"exp","t":2,"p":41.6},{"k":"exp","t":3,"p":48.4},{"k":"exp","t":4,"p":57.0},{"k":"exp","t":5,"p":61.1},{"k":"exp","t":6,"p":65.0},{"k":"exp","t":7,"p":69.5},{"k":"exp","t":8,"p":72.8},{"k":"exp","t":9,"p":76.6},{"k":"exp","t":10,"p":79.2},
      {"k":"fit","t":0,"p":1.5},{"k":"fit","t":0.5,"p":12.8},{"k":"fit","t":1,"p":22.6},{"k":"fit","t":1.5,"p":30.9},{"k":"fit","t":2,"p":38.0},{"k":"fit","t":2.5,"p":44.1},{"k":"fit","t":3,"p":49.3},{"k":"fit","t":3.5,"p":53.8},{"k":"fit","t":4,"p":57.6},{"k":"fit","t":4.5,"p":60.9},{"k":"fit","t":5,"p":63.7},{"k":"fit","t":5.5,"p":66.1},{"k":"fit","t":6,"p":68.2},{"k":"fit","t":6.5,"p":70.0},{"k":"fit","t":7,"p":71.5},{"k":"fit","t":7.5,"p":72.8},{"k":"fit","t":8,"p":73.9},{"k":"fit","t":8.5,"p":74.8},{"k":"fit","t":9,"p":75.6},{"k":"fit","t":9.5,"p":76.3},{"k":"fit","t":10,"p":76.9}
    ],
    "d": [
      {"k":"exp","t":0,"p":0},{"k":"exp","t":1,"p":23.2},{"k":"exp","t":2,"p":41.5},{"k":"exp","t":3,"p":53.5},{"k":"exp","t":4,"p":61.4},{"k":"exp","t":5,"p":66.8},{"k":"exp","t":6,"p":72.0},{"k":"exp","t":7,"p":77.5},{"k":"exp","t":8,"p":84.3},{"k":"exp","t":9,"p":86.8},{"k":"exp","t":10,"p":89.0},
      {"k":"fit","t":0,"p":1.5},{"k":"fit","t":0.5,"p":12.5},{"k":"fit","t":1,"p":22.3},{"k":"fit","t":1.5,"p":30.9},{"k":"fit","t":2,"p":38.5},{"k":"fit","t":2.5,"p":45.2},{"k":"fit","t":3,"p":51.1},{"k":"fit","t":3.5,"p":56.3},{"k":"fit","t":4,"p":60.9},{"k":"fit","t":4.5,"p":65.0},{"k":"fit","t":5,"p":68.6},{"k":"fit","t":5.5,"p":71.7},{"k":"fit","t":6,"p":74.5},{"k":"fit","t":6.5,"p":77.0},{"k":"fit","t":7,"p":79.2},{"k":"fit","t":7.5,"p":81.1},{"k":"fit","t":8,"p":82.8},{"k":"fit","t":8.5,"p":84.3},{"k":"fit","t":9,"p":85.6},{"k":"fit","t":9.5,"p":86.8},{"k":"fit","t":10,"p":87.8}
    ]
  },
  "bounds": "flush",
  "spacing": 242,
  "resolve": {"scale": {"color": "independent", "strokeDash": "independent", "x": "independent", "y": "independent"}},
  "vconcat": [
    {
      "width": 956, "height": 766,
      "data": {"name": "a"},
      "mark": {"type": "line", "strokeWidth": 5.5, "interpolate": "monotone", "clip": true},
      "encoding": {
        "x": {"field": "w", "type": "quantitative", "scale": {"domain": [300, 800], "nice": false},
              "axis": {"values": [300, 400, 500, 600, 700, 800], "title": ["波长/nm", "(a) 经石英波导担持 TiO₂ 降解后 Rh B 吸收光谱图"]}},
        "y": {"field": "v", "type": "quantitative", "scale": {"domain": [-0.05, 0.25], "nice": false, "zero": false},
              "axis": {"values": [-0.05, 0, 0.05, 0.1, 0.15, 0.2, 0.25], "labelExpr": "datum.value == 0 ? '0' : (datum.value < 0 ? '−' + format(-datum.value, '.2f') : format(datum.value, '.2f'))", "title": "吸收强度/(a.u.)", "titleFontSize": 55, "titlePadding": 30}},
        "color": {"field": "s", "type": "nominal",
                  "scale": {"domain": ["1.04×10⁻⁶ g/mL", "石英 1 h", "石英 2 h", "石英 3 h", "石英 4 h", "石英 5 h", "石英 6 h", "石英 7 h", "石英 8 h", "石英 9 h", "石英 10 h", "0.01 g TiO₂"],
                            "range": ["#4b4b50", "#d8313f", "#3a62ae", "#43a262", "#8c65ad", "#b38a2c", "#4fbab3", "#6b3f4b", "#7c8032", "#e65a2a", "#6b93c9", "#111111"]},
                  "legend": {"title": null}},
        "strokeDash": {"field": "s", "type": "nominal",
                       "scale": {"domain": ["1.04×10⁻⁶ g/mL", "石英 1 h", "石英 2 h", "石英 3 h", "石英 4 h", "石英 5 h", "石英 6 h", "石英 7 h", "石英 8 h", "石英 9 h", "石英 10 h", "0.01 g TiO₂"],
                                 "range": [[1, 0], [1, 0], [1, 0], [1, 0], [1, 0], [1, 0], [1, 0], [1, 0], [1, 0], [1, 0], [1, 0], [24, 14]]},
                       "legend": {"title": null}}
      }
    },
    {
      "width": 956, "height": 764,
      "data": {"name": "b"},
      "layer": [
        {
          "transform": [{"filter": "datum.k == 'exp'"}],
          "mark": {"type": "square", "size": 420, "color": "#111111", "opacity": 1, "filled": true},
          "encoding": {
            "x": {"field": "t", "type": "quantitative", "scale": {"domain": [-1, 11], "nice": false},
                  "axis": {"values": [0, 2, 4, 6, 8, 10], "title": ["时间/h", "(b) 石英波导担持 TiO₂ 对 Rh B 降解率"]}},
            "y": {"field": "p", "type": "quantitative", "scale": {"domain": [-10, 100], "nice": false, "zero": false},
                  "axis": {"values": [0, 20, 40, 60, 80, 100], "title": "(1-C/C₀) × 100%", "titleFontSize": 52, "titlePadding": 24}}
          }
        },
        {
          "transform": [{"filter": "datum.k == 'fit'"}],
          "mark": {"type": "line", "color": "#e0282c", "strokeWidth": 5, "interpolate": "monotone"},
          "encoding": {
            "x": {"field": "t", "type": "quantitative"},
            "y": {"field": "p", "type": "quantitative"}
          }
        }
      ]
    },
    {
      "width": 956, "height": 768,
      "data": {"name": "c"},
      "mark": {"type": "line", "strokeWidth": 5.5, "interpolate": "monotone", "clip": true},
      "encoding": {
        "x": {"field": "w", "type": "quantitative", "scale": {"domain": [300, 800], "nice": false},
              "axis": {"values": [300, 400, 500, 600, 700, 800], "title": ["波长/nm", "(c) 经 PDMS 波导担持 TiO₂ 降解后 Rh B 吸收光谱图"]}},
        "y": {"field": "v", "type": "quantitative", "scale": {"domain": [-0.05, 0.25], "nice": false, "zero": false},
              "axis": {"values": [-0.05, 0, 0.05, 0.1, 0.15, 0.2, 0.25], "labelExpr": "datum.value == 0 ? '0' : (datum.value < 0 ? '−' + format(-datum.value, '.2f') : format(datum.value, '.2f'))", "title": "吸收强度/(a.u.)", "titleFontSize": 55, "titlePadding": 30}},
        "color": {"field": "s", "type": "nominal",
                  "scale": {"domain": ["1.04×10⁻⁶ g/mL", "PDMS 1 h", "PDMS 2 h", "PDMS 3 h", "PDMS 4 h", "PDMS 5 h", "PDMS 6 h", "PDMS 7 h", "PDMS 8 h", "PDMS 9 h", "PDMS 10 h", "0.01 g TiO₂"],
                            "range": ["#4b4b50", "#d8313f", "#3a62ae", "#43a262", "#8c65ad", "#b38a2c", "#4fbab3", "#6b3f4b", "#7c8032", "#e65a2a", "#6b93c9", "#111111"]},
                  "legend": {"title": null}},
        "strokeDash": {"field": "s", "type": "nominal",
                       "scale": {"domain": ["1.04×10⁻⁶ g/mL", "PDMS 1 h", "PDMS 2 h", "PDMS 3 h", "PDMS 4 h", "PDMS 5 h", "PDMS 6 h", "PDMS 7 h", "PDMS 8 h", "PDMS 9 h", "PDMS 10 h", "0.01 g TiO₂"],
                                 "range": [[1, 0], [1, 0], [1, 0], [1, 0], [1, 0], [1, 0], [1, 0], [1, 0], [1, 0], [1, 0], [1, 0], [24, 14]]},
                       "legend": {"title": null}}
      }
    },
    {
      "width": 956, "height": 765,
      "data": {"name": "d"},
      "layer": [
        {
          "transform": [{"filter": "datum.k == 'exp'"}],
          "mark": {"type": "square", "size": 420, "color": "#111111", "opacity": 1, "filled": true},
          "encoding": {
            "x": {"field": "t", "type": "quantitative", "scale": {"domain": [-1, 11], "nice": false},
                  "axis": {"values": [0, 2, 4, 6, 8, 10], "title": ["时间/h", "(d) PDMS 波导担持 TiO₂ 对 Rh B 降解率"]}},
            "y": {"field": "p", "type": "quantitative", "scale": {"domain": [-10, 100], "nice": false, "zero": false},
                  "axis": {"values": [0, 20, 40, 60, 80, 100], "title": "(1-C/C₀)×100%", "titleFontSize": 52, "titlePadding": 24}}
          }
        },
        {
          "transform": [{"filter": "datum.k == 'fit'"}],
          "mark": {"type": "line", "color": "#e0282c", "strokeWidth": 5, "interpolate": "monotone"},
          "encoding": {
            "x": {"field": "t", "type": "quantitative"},
            "y": {"field": "p", "type": "quantitative"}
          }
        }
      ]
    }
  ]
}
